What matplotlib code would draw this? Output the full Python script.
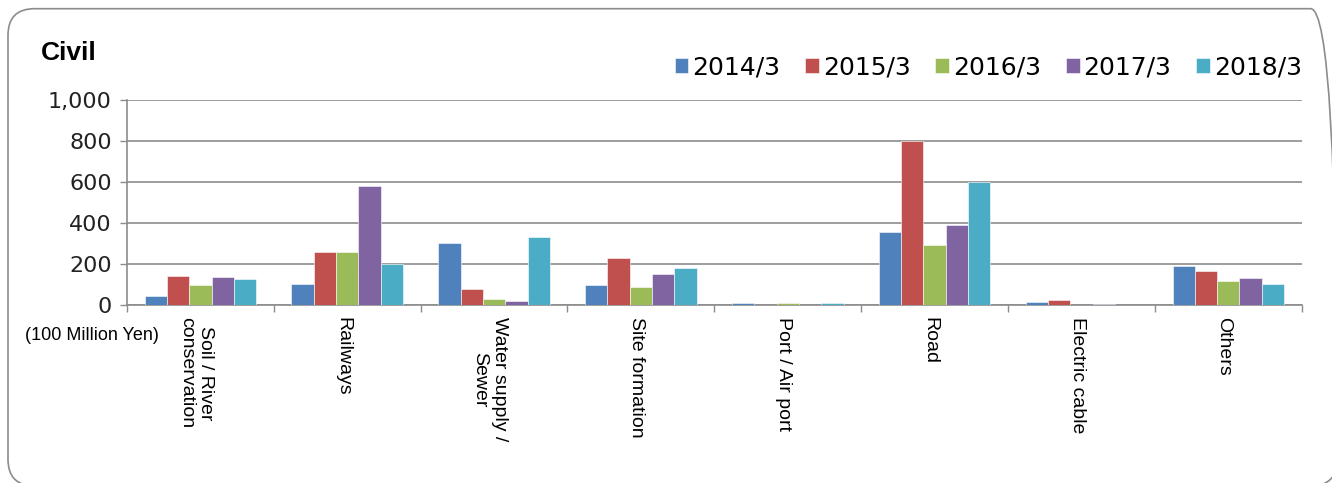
import numpy as np
import matplotlib.pyplot as plt
from matplotlib.patches import FancyBboxPatch

# Civil orders by category, 100 million yen
categories = [
    "Soil / River\nconservation",
    "Railways",
    "Water supply /\nSewer",
    "Site formation",
    "Port / Air port",
    "Road",
    "Electric cable",
    "Others",
]
years = ["2014/3", "2015/3", "2016/3", "2017/3", "2018/3"]

fy2014 = [45, 102, 301, 98, 10, 357, 14, 190]
fy2015 = [143, 257, 78, 228, 0, 801, 24, 165]
fy2016 = [98, 257, 29, 88, 8, 292, 0, 118]
fy2017 = [135, 580, 20, 152, 0, 392, 3, 133]
fy2018 = [128, 200, 332, 181, 10, 600, 0, 101]

series = [fy2014, fy2015, fy2016, fy2017, fy2018]
colors = ["#4F81BD", "#C0504D", "#9BBB59", "#8064A2", "#4BACC6"]

fig = plt.figure(figsize=(13.32, 4.83), dpi=100)
ax = fig.add_axes([0.0953, 0.3685, 0.882, 0.4245])

# rounded frame around the whole chart
frame = FancyBboxPatch((0.006, -0.006), 0.998, 0.988, boxstyle="round,pad=0,rounding_size=0.02",
                       transform=fig.transFigure, facecolor="none", edgecolor="#8c8c8c",
                       linewidth=1.2, mutation_aspect=1332 / 483)
fig.patches.append(frame)

x = np.arange(len(categories))
bw = 0.152
for i, (vals, c, lab) in enumerate(zip(series, colors, years)):
    ax.bar(x + (i - 2) * bw, vals, bw, color=c, label=lab,
           edgecolor="white", linewidth=0.4, zorder=3)

ax.set_xlim(-0.5, len(categories) - 0.5)
ax.set_ylim(0, 1000)
ax.set_yticks(range(0, 1001, 200))
ax.set_yticklabels([f"{v:,}" for v in range(0, 1001, 200)],
                   fontsize=16, family="DejaVu Sans", color="#222222")
ax.yaxis.grid(True, color="#8c8c8c", linewidth=1.2, zorder=0)

# category boundaries as tick marks, names as rotated labels
ax.set_xticks(np.arange(-0.5, len(categories)), minor=False)
ax.set_xticklabels([])
ax.tick_params(axis="x", length=5, color="#8c8c8c", width=1)
ax.tick_params(axis="y", length=5, color="#8c8c8c", width=1, pad=6)
for xi, name in zip(x, categories):
    ax.text(xi - 0.03, -0.06, name, transform=ax.get_xaxis_transform(),
            rotation=-90, ha="center", va="top", multialignment="center",
            fontsize=14, family="Liberation Sans")

for side in ["top", "right"]:
    ax.spines[side].set_visible(False)
ax.spines["left"].set_color("#8c8c8c")
ax.spines["bottom"].set_color("#8c8c8c")
ax.spines["left"].set_linewidth(1.2)
ax.spines["bottom"].set_linewidth(1.2)

fig.text(0.031, 0.89, "Civil", fontsize=19, fontweight="bold",
         family="Liberation Sans", va="center")
fig.text(0.019, 0.305, "(100 Million Yen)", fontsize=13,
         family="Liberation Sans", va="center")

ax.legend(loc="lower right", bbox_to_anchor=(1.0, 1.1), ncol=5, frameon=False,
          handlelength=0.55, handleheight=0.55, handletextpad=0.15,
          columnspacing=1.0, borderaxespad=0, borderpad=0,
          prop={"family": "DejaVu Sans", "size": 18})

fig.savefig("out.png", dpi=100)
